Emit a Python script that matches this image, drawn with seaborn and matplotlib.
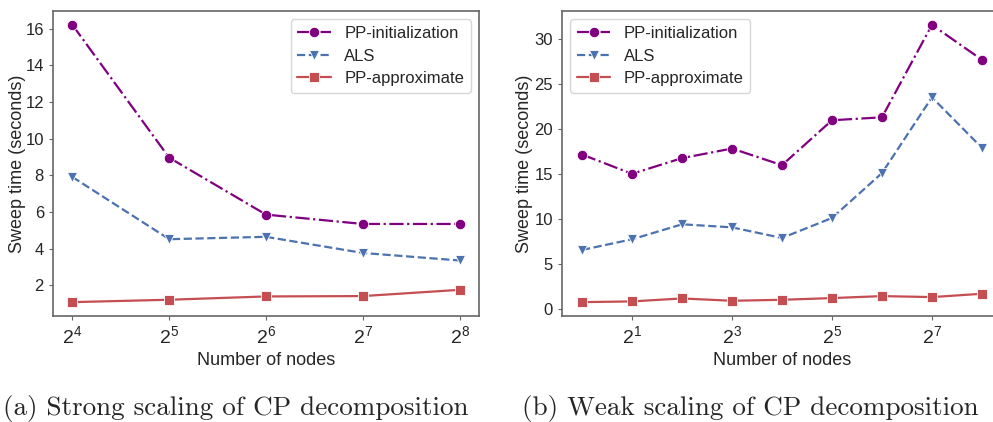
import numpy as np
import pandas as pd
import matplotlib
matplotlib.use("Agg")
import matplotlib.pyplot as plt
from matplotlib.ticker import NullLocator, MultipleLocator
import seaborn as sns

# Strong scaling: number of nodes and sweep time per method
strong_nodes = [16, 32, 64, 128, 256]
strong_pp_init = [16.2, 8.96, 5.86, 5.35, 5.35]
strong_als = [7.91, 4.52, 4.65, 3.77, 3.36]
strong_pp_approx = [1.09, 1.22, 1.40, 1.42, 1.76]

# Weak scaling: number of nodes and sweep time per method
weak_nodes = [1, 2, 4, 8, 16, 32, 64, 128, 256]
weak_pp_init = [17.21, 15.07, 16.81, 17.88, 16.03, 21.02, 21.35, 31.62, 27.74]
weak_als = [6.61, 7.79, 9.46, 9.12, 7.94, 10.16, 15.15, 23.57, 17.95]
weak_pp_approx = [0.81, 0.89, 1.22, 0.96, 1.07, 1.26, 1.48, 1.37, 1.74]

strong_ticks = [16, 32, 64, 128, 256]
strong_tick_labels = ["$\\mathregular{2^{4}}$", "$\\mathregular{2^{5}}$", "$\\mathregular{2^{6}}$",
                      "$\\mathregular{2^{7}}$", "$\\mathregular{2^{8}}$"]
weak_ticks = [2, 8, 32, 128]
weak_tick_labels = ["$\\mathregular{2^{1}}$", "$\\mathregular{2^{3}}$", "$\\mathregular{2^{5}}$",
                    "$\\mathregular{2^{7}}$"]
strong_y_step = 2
weak_y_step = 5

methods = ["PP-initialization", "ALS", "PP-approximate"]
captions = ["(a) Strong scaling of CP decomposition", "(b) Weak scaling of CP decomposition"]


def long_frame(nodes, series):
    rows = []
    for name, vals in zip(methods, series):
        for n, v in zip(nodes, vals):
            rows.append({"nodes": n, "time": v, "method": name})
    return pd.DataFrame(rows)


strong_df = long_frame(strong_nodes, [strong_pp_init, strong_als, strong_pp_approx])
weak_df = long_frame(weak_nodes, [weak_pp_init, weak_als, weak_pp_approx])

sns.set_theme(style="ticks")
plt.rcParams["font.family"] = ["Liberation Sans", "DejaVu Sans"]
plt.rcParams["mathtext.fontset"] = "custom"
plt.rcParams["mathtext.rm"] = "Liberation Sans"

palette = {"PP-initialization": "#800080", "ALS": "#4C72B0", "PP-approximate": "#C44E52"}
markers = {"PP-initialization": "o", "ALS": "v", "PP-approximate": "s"}
dashes = {"PP-initialization": (6.4, 1.6, 1.0, 1.6), "ALS": (3.7, 1.6), "PP-approximate": ""}

fig = plt.figure(figsize=(9.93, 4.22), dpi=100)
ax_a = fig.add_axes([0.0534, 0.2512, 0.429, 0.7227])
ax_b = fig.add_axes([0.566, 0.2512, 0.443, 0.7227])

spine_col = "0.4"
for ax, df, ticks, labels, ystep, loc, ylab_x in [
    (ax_a, strong_df, strong_ticks, strong_tick_labels, strong_y_step, "upper right", -0.063),
    (ax_b, weak_df, weak_ticks, weak_tick_labels, weak_y_step, "upper left", -0.066),
]:
    sns.lineplot(data=df, x="nodes", y="time", hue="method", style="method",
                 hue_order=methods, style_order=methods, palette=palette,
                 markers=markers, dashes=dashes, markersize=7.5, linewidth=1.6,
                 markeredgecolor="white", markeredgewidth=0.6, ax=ax)
    ax.set_xscale("log", base=2)
    ax.set_xticks(ticks)
    ax.set_xticklabels(labels)
    ax.xaxis.set_minor_locator(NullLocator())
    ax.yaxis.set_major_locator(MultipleLocator(ystep))
    ax.set_xlabel("Number of nodes", fontsize=13, color="0.15")
    ax.set_ylabel("Sweep time (seconds)", fontsize=13, color="0.15")
    ax.yaxis.set_label_coords(ylab_x, 0.5)
    ax.tick_params(axis="both", labelsize=12, colors=spine_col, labelcolor="0.15",
                   length=3, width=0.8)
    ax.tick_params(axis="x", labelsize=14)
    for s in ax.spines.values():
        s.set_visible(True)
        s.set_color(spine_col)
        s.set_linewidth(1.2)
    sns.move_legend(ax, loc, title=None, fontsize=12, frameon=True,
                    handlelength=2.0, labelspacing=0.45)

for x, text in zip([0.2377, 0.756], captions):
    fig.text(x, 0.033, text, ha="center", va="center", fontsize=19.5,
             family="cmr10")

fig.savefig("out.png", dpi=100)
